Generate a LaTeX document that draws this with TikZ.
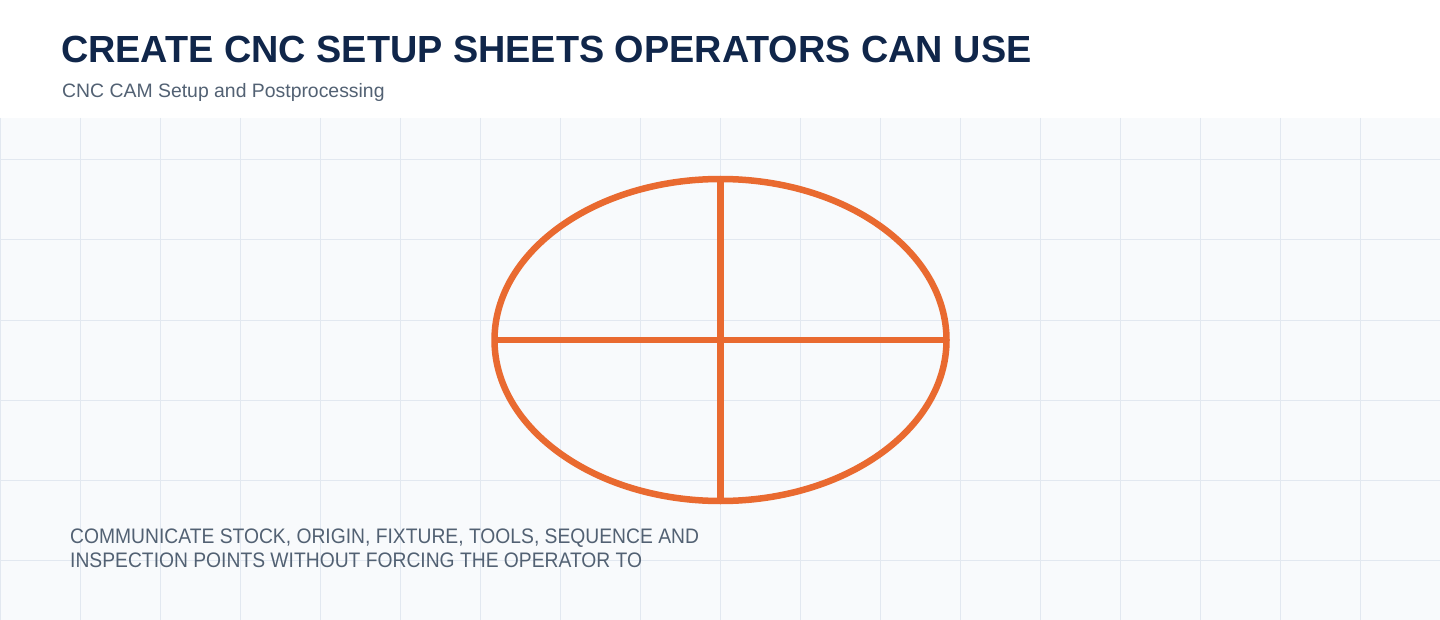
\documentclass[tikz,border=0pt]{standalone}
\usepackage{fontspec}
\setmainfont{Liberation Sans}
\definecolor{bgpanel}{HTML}{F8FAFC}
\definecolor{gridc}{HTML}{E2E8F0}
\definecolor{titlec}{HTML}{10264A}
\definecolor{subc}{HTML}{526173}
\definecolor{orangec}{HTML}{E96A30}
\tikzset{
  titletext/.style={anchor=base west, inner sep=0pt, text=titlec, font=\fontsize{37.8}{44}\selectfont\bfseries},
  subtext/.style={anchor=base west, inner sep=0pt, text=subc, font=\fontsize{19.4}{22}\selectfont},
  bodytext/.style={anchor=base west, inner sep=0pt, text=subc, font=\fontsize{21}{24}\selectfont},
  mark line/.style={draw=orangec, line width=6.5pt},
}
\begin{document}
\begin{tikzpicture}[x=1pt,y=-1pt]
\useasboundingbox (0,0) rectangle (1440,620);
\fill[white] (0,0) rectangle (1440,118);
\fill[bgpanel] (0,118) rectangle (1440,620);
\foreach \x in {0,80,...,1440} \draw[gridc, line width=1pt] (\x,118) -- (\x,620);
\foreach \y in {160,240,...,600} \draw[gridc, line width=1pt] (0,\y) -- (1440,\y);
\node[titletext] (title) at (61,63) {CREATE CNC SETUP SHEETS OPERATORS CAN USE};
\node[subtext] (sub) at (62,98) {CNC CAM Setup and Postprocessing};
\draw[mark line] (720.5,340) ellipse [x radius=226, y radius=161];
\draw[mark line] (494,340) -- (947,340);
\draw[mark line] (720.5,179) -- (720.5,501);
\node[bodytext] (l1) at (70,543) {\scalebox{0.918}[1]{COMMUNICATE STOCK, ORIGIN, FIXTURE, TOOLS, SEQUENCE AND}};
\node[bodytext] (l2) at (70,567) {\scalebox{0.918}[1]{INSPECTION POINTS WITHOUT FORCING THE OPERATOR TO}};
\end{tikzpicture}
\end{document}
